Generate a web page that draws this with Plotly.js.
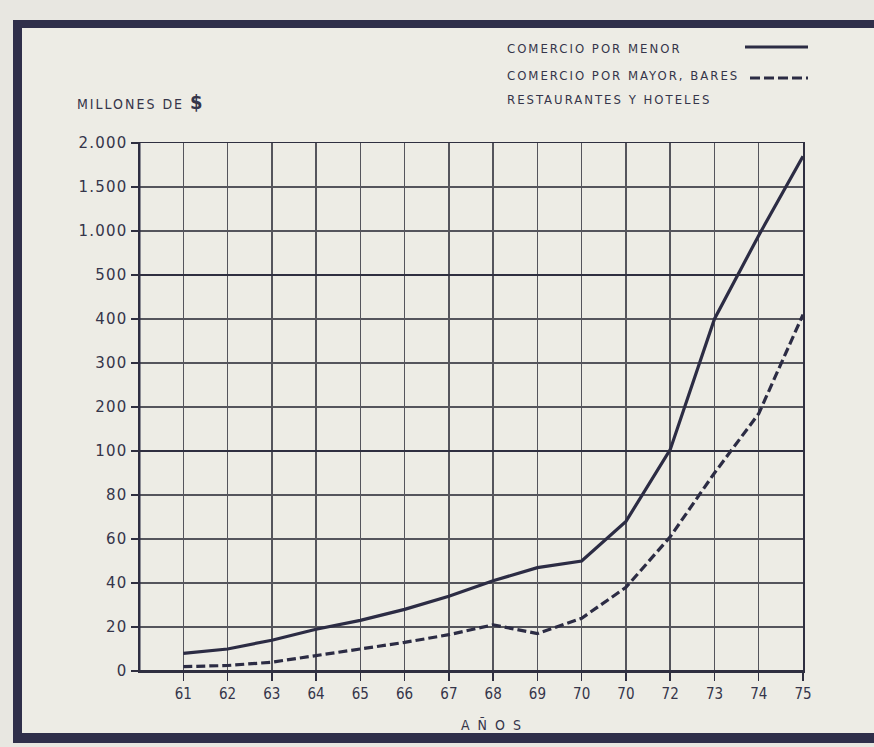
<!DOCTYPE html>
<html>
<head>
<meta charset="utf-8">
<script src="https://cdn.plot.ly/plotly-3.0.1.min.js"></script>
<style>
  html, body { margin:0; padding:0; background:#e8e7e1; }
  #frame { position:absolute; left:13px; top:20px; width:861px; height:723px;
           border-top:8px solid #2f2f4a; border-left:9px solid #2f2f4a; border-bottom:10px solid #2f2f4a;
           background:#edece5; box-sizing:border-box; }
  #chart { position:absolute; left:0; top:0; width:874px; height:747px; }
  .annotation-text { letter-spacing:2px; }
  .ytick text { letter-spacing:1.2px; }
</style>
</head>
<body>
<div id="frame"></div>
<div id="chart"></div>
<script>
// Years (x) and tick labels as printed (second "70" is a misprint in the original)
const years = [61,62,63,64,65,66,67,68,69,70,71,72,73,74,75];
const yearLabels = ["61","62","63","64","65","66","67","68","69","70","70","72","73","74","75"];

// Series values, millones de $
const comercioMenor = [8,10,14,19,23,28,34,41,47,50,68,103,400,950,1850];
const comercioMayor = [2,2.5,4,7,10,13,16.5,21,17,24,38,61,90,185,410];

// Y axis breaks (equally spaced gridlines on the original) and their labels
const yBreaks = [0,20,40,60,80,100,200,300,400,500,1000,1500,2000];
const yLabels = ["0","20","40","60","80","100","200","300","400","500","1.000","1.500","2.000"];

// piecewise scale: each interval between breaks gets the same height
function pos(v){
  for (let i=0;i<yBreaks.length-1;i++){
    if (v<=yBreaks[i+1]) return i + (v-yBreaks[i])/(yBreaks[i+1]-yBreaks[i]);
  }
  return yBreaks.length-1;
}

const ink = '#2c2c44';
const txtColor = '#35354a';

const traces = [
  {x:years, y:comercioMenor.map(pos), customdata:comercioMenor, type:'scatter', mode:'lines',
   name:'COMERCIO POR MENOR', line:{color:ink, width:3.2, shape:'linear'},
   hovertemplate:'%{x}: %{customdata}<extra></extra>'},
  {x:years, y:comercioMayor.map(pos), customdata:comercioMayor, type:'scatter', mode:'lines',
   name:'COMERCIO POR MAYOR, BARES RESTAURANTES Y HOTELES', line:{color:ink, width:3.2, dash:'9px,4px'},
   hovertemplate:'%{x}: %{customdata}<extra></extra>'}
];

const gridColor = '#55555c';
const shapes = [
  // heavier left axis
  {type:'line', xref:'x', yref:'y', x0:60, x1:60, y0:0, y1:yBreaks.length-1, line:{color:ink, width:3}},
  // heavier 100 and 500 gridlines
  {type:'line', xref:'x', yref:'y', x0:60, x1:75, y0:pos(100), y1:pos(100), line:{color:'#2f2f40', width:2.2}},
  {type:'line', xref:'x', yref:'y', x0:60, x1:75, y0:pos(500), y1:pos(500), line:{color:'#2f2f40', width:2.2}},
  // heavier base line
  {type:'line', xref:'x', yref:'y', x0:60, x1:75, y0:0, y1:0, line:{color:'#2f2f40', width:2}},
  // legend keys
  {type:'line', xref:'paper', yref:'paper', x0:(745-139)/664, x1:(808-139)/664, y0:(671-47)/528, y1:(671-47)/528, line:{color:ink, width:3}},
  {type:'line', xref:'paper', yref:'paper', x0:(750-139)/664, x1:(808-139)/664, y0:(671-78)/528, y1:(671-78)/528, line:{color:ink, width:3, dash:'10px,4px'}}
];

const ann = (txt, px, py, size) => ({
  text:txt, xref:'paper', yref:'paper', x:(px-139)/664, y:(671-py)/528,
  xanchor:'left', yanchor:'middle', showarrow:false,
  font:{family:'DejaVu Sans Condensed', size:size, color:txtColor}
});

const annotations = [
  ann('MILLONES DE <b style="font-size:20px">$</b>', 75, 102, 14),
  ann('COMERCIO POR MENOR', 505, 48, 13),
  ann('COMERCIO POR MAYOR, BARES', 505, 76, 13),
  ann('RESTAURANTES Y HOTELES', 505, 99, 13),
  ann('A Ñ O S', 459, 725, 14)
];

const layout = {
  width:874, height:747,
  margin:{l:139, r:71, t:143, b:76, pad:0},
  paper_bgcolor:'rgba(0,0,0,0)', plot_bgcolor:'rgba(0,0,0,0)',
  showlegend:false,
  xaxis:{range:[60,75], tickmode:'array', tickvals:years, ticktext:yearLabels,
         showgrid:true, gridcolor:gridColor, gridwidth:1.5, zeroline:false,
         showline:true, linecolor:'#2f2f40', linewidth:1.5, mirror:true,
         ticks:'outside', ticklen:8, tickwidth:1.5, tickcolor:'#2f2f40',
         tickfont:{family:'DejaVu Sans Condensed', size:15, color:txtColor}, fixedrange:true},
  yaxis:{range:[0,yBreaks.length-1], tickmode:'array', tickvals:yBreaks.map((b,i)=>i), ticktext:yLabels,
         showgrid:true, gridcolor:gridColor, gridwidth:1.5, zeroline:false,
         showline:true, linecolor:'#2f2f40', linewidth:1.5, mirror:true,
         ticks:'outside', ticklen:7, tickwidth:1.5, tickcolor:'#2f2f40',
         tickfont:{family:'DejaVu Sans', size:15, color:txtColor}, fixedrange:true},
  shapes:shapes,
  annotations:annotations
};

Plotly.newPlot('chart', traces, layout, {displayModeBar:false, staticPlot:true});
</script>
</body>
</html>
